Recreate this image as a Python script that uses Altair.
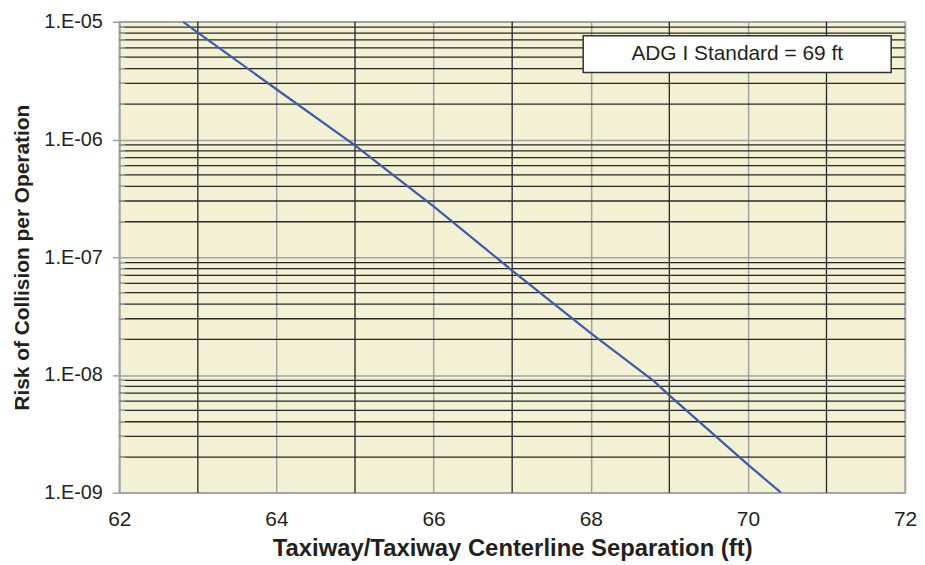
import altair as alt
import pandas as pd

# Curve
separation_ft = [62.81, 63.0, 64.0, 65.0, 66.0, 67.0, 68.0, 68.8, 69.0, 70.0, 70.42]
risk = [1.0e-5, 8.1e-6, 2.67e-6, 8.9e-7, 2.7e-7, 7.7e-8, 2.26e-8, 8.9e-9, 6.7e-9, 1.73e-9, 1.0e-9]

x_major = [62, 64, 66, 68, 70, 72]
x_minor = [63, 65, 67, 69, 71]
y_major = [1e-9, 1e-8, 1e-7, 1e-6, 1e-5]
y_minor = [m * 10.0 ** e for e in range(-9, -5) for m in range(2, 10)]

note_text = ["ADG I Standard = 69 ft"]

FONT = "Liberation Sans"
GRAY = "#a3a3a3"
BLACK = "#262626"
TXT = "#231f20"

df_line = pd.DataFrame({"sep": separation_ft, "risk": risk})
df_xminor = pd.DataFrame({"sep": x_minor})
df_yminor = pd.DataFrame({"risk": y_minor})
df_note = pd.DataFrame({"t": note_text})

xscale = alt.Scale(domain=[62, 72], nice=False, zero=False)
yscale = alt.Scale(type="log", domain=[1e-9, 1e-5], nice=False)

xaxis = alt.Axis(
    values=x_major, format="d", grid=True, gridColor=GRAY, gridWidth=1.5, ticks=False, tickSize=0,
    domainColor=GRAY, domainWidth=1.5, labelFont=FONT, labelFontSize=21, labelColor=TXT,
    labelPadding=16, labelFlush=False,
    title="Taxiway/Taxiway Centerline Separation (ft)", titleFont=FONT,
    titleFontSize=24, titleFontWeight="bold", titleColor=TXT, titleY=44,
    titleBaseline="top",
)
yaxis = alt.Axis(
    values=y_major, labelExpr="'1.E-0' + round(-log(datum.value) / LN10)",
    grid=True, gridColor=GRAY, gridWidth=1.5, ticks=True, tickSize=7, tickColor=GRAY,
    tickWidth=1.5, domainColor=GRAY, domainWidth=1.5, labelFont=FONT, labelFontSize=20,
    labelColor=TXT, labelPadding=10, title="Risk of Collision per Operation",
    titleFont=FONT, titleFontSize=21, titleFontWeight="bold", titleColor=TXT,
    titleX=-91, titleBaseline="alphabetic", titleAngle=-90,
)

base_line = alt.Chart(df_line).mark_line(color="#3d5ba9", strokeWidth=2.2, clip=True).encode(
    x=alt.X("sep:Q", scale=xscale, axis=xaxis),
    y=alt.Y("risk:Q", scale=yscale, axis=yaxis),
)

yminor_rules = alt.Chart(df_yminor).mark_rule(color=BLACK, strokeWidth=1.3).encode(
    y=alt.Y("risk:Q", scale=yscale)
)
yminor_ticks = alt.Chart(df_yminor).mark_rule(color=GRAY, strokeWidth=1.5).encode(
    y=alt.Y("risk:Q", scale=yscale), x=alt.value(0), x2=alt.value(6)
)
xminor_rules = alt.Chart(df_xminor).mark_rule(color=BLACK, strokeWidth=1.3).encode(
    x=alt.X("sep:Q", scale=xscale)
)

note_box = alt.Chart(df_note).mark_rect(fill="white", stroke="#333333", strokeWidth=1.5).encode(
    x=alt.value(467), x2=alt.value(777), y=alt.value(14), y2=alt.value(51)
)
note_label = alt.Chart(df_note).mark_text(
    font=FONT, fontSize=21, color=TXT, align="center", baseline="middle"
).encode(x=alt.value(622), y=alt.value(33), text="t:N")

chart = alt.layer(
    yminor_rules, xminor_rules, yminor_ticks, base_line, note_box, note_label
).properties(
    width=791, height=474,
    autosize=alt.AutoSizeParams(type="none"),
    padding={"left": 112, "top": 12, "right": 12, "bottom": 68},
    background="white",
).configure_view(fill="#f3f1d4", stroke=GRAY, strokeWidth=1.5)

chart.save("out.html", embed_options={"renderer": "svg", "actions": False})
